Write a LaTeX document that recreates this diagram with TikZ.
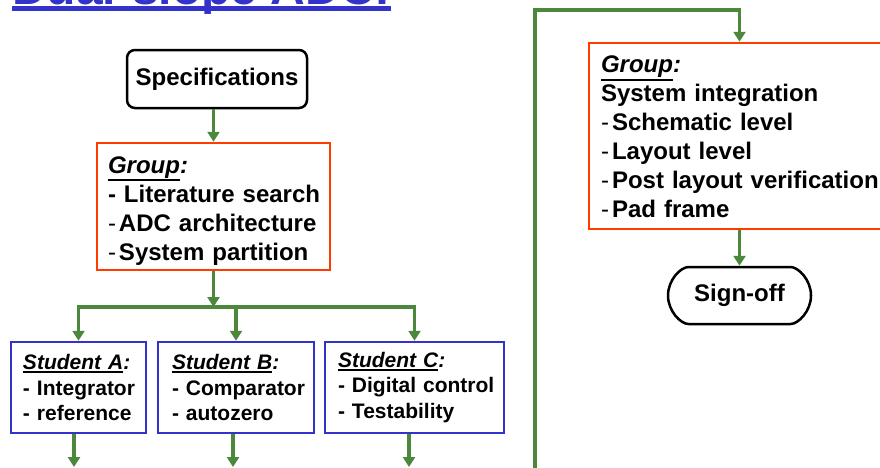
\documentclass[tikz,border=0pt]{standalone}
\usepackage{fontspec}
\setmainfont{Liberation Sans}
\usetikzlibrary{arrows.meta,shapes.misc}
\definecolor{gr}{RGB}{76,136,60}
\definecolor{rd}{RGB}{255,60,0}
\definecolor{bl}{RGB}{51,51,204}
\newcommand\ulx[2]{\setbox0\hbox{#2}\setlength{\dimen0}{\dimexpr\dp0+#1+1.8pt\relax}\rlap{\rule[-\dimen0]{\wd0}{1.8pt}}\box0}
\newcommand\thd{{\mdseries-}\kern3pt}
\newcommand\bigf{\fontsize{24}{29}\selectfont\bfseries\hyphenpenalty=10000\exhyphenpenalty=10000\hbadness=10000\hfuzz=100pt}
\newcommand\smf{\fontsize{21}{25.5}\selectfont\bfseries\hyphenpenalty=10000\exhyphenpenalty=10000\hbadness=10000\hfuzz=100pt}
\tikzset{
  gline/.style={draw=gr, line width=3.2pt},
  arr/.style={gline, -{Triangle[width=12pt,length=10pt]}},
  specbox/.style={draw, line width=2.5pt, rounded corners=8pt, font=\bigf, inner sep=0pt},
  grpbox/.style={draw=rd, line width=2.5pt, font=\bigf, align=left, inner ysep=0pt},
  stubox/.style={draw=bl, line width=2.5pt, font=\smf, align=left, minimum height=91pt, inner ysep=0pt},
}
\begin{document}
\begin{tikzpicture}[x=1pt,y=-1pt]
\useasboundingbox (0,0) rectangle (880,467);
\clip (0,0) rectangle (880,467);
% title
\node[anchor=base west, inner sep=0pt, text=bl, font=\fontsize{48}{50}\selectfont\bfseries] (title) at (12,4.5) {Dual-slope ADC:};
\fill[bl] (12,6) rectangle (391,10.5);
% left flow
\node[specbox, minimum width=180pt, minimum height=58pt] (spec) at (217,79) {Specifications};
\node[grpbox, minimum width=233pt, minimum height=127pt, inner xsep=11pt, text width=211pt] (g1) at (213.5,206.5)
  {\rule{0pt}{25pt}\ulx{1pt}{\itshape Group}\textit{:}\\-~Literature~search\\\thd ADC~architecture\\\thd System~partition};
\node[stubox, minimum width=135pt, inner xsep=12pt, text width=111pt] (sA) at (78.5,387.5)
  {\ulx{1.2pt}{\itshape Student A}\textit{:}\\-~Integrator\\-~reference};
\node[stubox, minimum width=156pt, inner xsep=14pt, text width=128pt] (sB) at (236,387.5)
  {\ulx{1.2pt}{\itshape Student B}\textit{:}\\-~Comparator\\-~autozero};
\node[stubox, minimum width=179pt, inner xsep=13pt, text width=153pt] (sC) at (414.5,387.5)
  {\ulx{1.2pt}{\itshape Student C}\textit{:}\\-~Digital~control\\-~Testability};
% right flow
\node[grpbox, minimum width=310pt, minimum height=186pt, inner xsep=12pt, text width=286pt] (g2) at (744,136)
  {\rule{0pt}{19pt}\ulx{1pt}{\itshape Group}\textit{:}\\System~integration\\\thd Schematic~level\\\thd Layout~level\\\thd Post~layout~verification\\\thd Pad~frame};
\node[specbox, rounded rectangle, minimum width=143pt, minimum height=57pt] (sign) at (739.5,295.5) {Sign-off};
% connectors
\coordinate (j) at (213.5,307);
\coordinate (oA) at (74,467);
\coordinate (oB) at (233,467);
\coordinate (oC) at (409,467);
\coordinate (bl) at (535,475);
\coordinate (tl) at (535,10);
\draw[arr] (spec.south -| g1.north) -- (g1.north);
\draw[arr] (g1.south) -- (j);
\draw[gline, line cap=rect] (sA.north |- j) -- (sC.north |- j);
\draw[arr] (sA.north |- j) -- (sA.north);
\draw[arr] (sB.north |- j) -- (sB.north);
\draw[arr] (sC.north |- j) -- (sC.north);
\draw[arr] (oA |- sA.south) -- (oA);
\draw[arr] (oB |- sB.south) -- (oB);
\draw[arr] (oC |- sC.south) -- (oC);
\draw[arr] (bl) -- (tl) -| (sign.north |- g2.north);
\draw[arr] (sign.north |- g2.south) -- (sign.north);
\end{tikzpicture}
\end{document}
